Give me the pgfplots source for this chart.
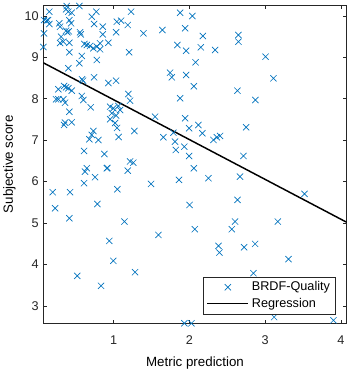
\documentclass[border=0pt]{standalone}
\usepackage{fontspec}
\setmainfont{Liberation Sans}
\usepackage{pgfplots}
\pgfplotsset{compat=1.18}
\usepackage{pgfplotstable}
\definecolor{mblue}{rgb}{0,0.447,0.741}
\definecolor{axgray}{rgb}{0.15,0.15,0.15}
\pgfplotstableread{
x y
0.149 10.104
0.079 9.903
0.115 9.887
0.132 9.903
0.149 9.807
0.079 9.582
0.070 9.252
0.379 10.241
0.370 10.162
0.400 10.104
0.445 10.080
0.546 10.241
0.710 9.983
0.770 10.104
0.281 9.824
0.291 9.742
0.414 9.896
0.436 9.824
0.740 9.807
0.855 9.742
0.370 9.645
0.387 9.607
0.406 9.631
0.555 9.607
0.564 9.558
0.855 9.558
0.304 9.500
0.334 9.380
0.291 9.348
0.414 9.356
0.612 9.324
0.644 9.300
0.687 9.276
0.731 9.220
0.776 9.259
0.819 9.341
0.819 9.196
0.929 9.356
0.414 9.124
0.578 9.035
0.546 8.858
0.776 8.938
0.400 8.738
0.581 8.472
0.595 8.438
0.740 8.520
0.929 8.383
1.031 8.438
0.268 8.231
0.344 8.310
0.370 8.279
0.400 8.255
0.445 8.197
0.238 7.989
0.268 7.989
0.334 7.989
0.357 7.907
0.578 8.069
0.599 7.972
0.696 7.796
0.414 7.690
0.357 7.425
0.344 7.369
0.445 7.434
0.952 7.811
0.995 7.772
1.061 7.828
1.084 7.731
0.974 7.652
1.031 7.598
0.952 7.507
1.018 7.417
1.044 7.297
1.064 7.079
0.731 7.224
0.710 7.128
0.678 7.024
0.797 7.007
0.608 6.742
0.876 6.669
1.229 10.104
1.097 9.887
1.185 9.783
1.040 9.862
1.031 9.607
1.392 9.582
1.643 9.662
1.877 10.080
2.038 10.000
1.943 9.703
1.203 9.124
1.841 9.300
1.956 9.162
2.081 8.882
1.744 8.631
1.767 8.520
1.956 8.576
2.058 8.303
1.193 8.117
1.216 7.956
1.877 8.014
1.546 7.569
1.273 7.224
1.656 7.072
1.788 7.183
1.810 6.966
1.820 6.766
1.943 7.531
1.996 7.289
1.933 6.845
1.996 6.621
1.216 6.488
1.259 6.459
1.185 6.266
2.177 9.517
2.150 9.245
2.339 9.179
2.647 9.541
2.647 9.380
3.006 9.018
3.110 8.496
2.634 8.197
2.872 7.972
2.118 7.369
2.171 7.169
2.317 7.007
2.362 7.072
2.405 7.104
2.749 7.314
2.713 6.621
0.644 6.324
0.621 6.242
0.908 6.324
0.916 6.331
0.194 5.745
0.423 5.745
0.608 5.962
0.753 6.107
1.048 5.817
0.225 5.358
0.414 5.117
0.784 5.462
0.942 4.569
0.995 4.087
0.519 3.724
0.833 3.483
1.493 5.945
1.863 6.042
2.058 6.324
2.002 5.438
1.141 5.035
1.590 4.714
2.071 4.852
1.282 3.814
1.933 2.578
2.026 2.578
2.251 6.083
2.669 6.121
2.634 5.559
2.603 5.035
2.560 4.852
2.383 4.449
2.396 4.287
2.722 4.417
2.868 4.497
2.845 3.790
3.519 5.704
3.168 5.035
3.308 4.128
3.119 2.728
3.902 2.650
}\datatable
\begin{document}
\begin{tikzpicture}
\begin{axis}[
  name=ax,
  scale only axis,
  width=227.5pt, height=238.5pt,
  xmin=0.07, xmax=4.077,
  ymin=2.578, ymax=10.258,
  xtick={1,2,3,4},
  ytick={3,4,5,6,7,8,9,10},
  tick align=inside,
  major tick length=2.5pt,
  axis line style={axgray, line width=0.5pt},
  every tick/.style={axgray, line width=0.5pt},
  tick label style={font=\fontsize{9.5}{11}\selectfont, text=axgray},
  xticklabel style={yshift=-5.5pt},
  /pgf/number format/assume math mode=true,
  xlabel={Metric prediction},
  ylabel={Subjective score},
  label style={font=\fontsize{11}{13}\selectfont, text=axgray},
  every axis x label/.style={at={(axis description cs:0.5,0)}, yshift=-29.5pt, anchor=center},
  every axis y label/.style={at={(axis description cs:0,0.5)}, xshift=-25.5pt, rotate=90, anchor=center},
  legend style={at={(1,0)}, anchor=south east, xshift=-8.25pt, yshift=6.75pt,
    font=\fontsize{9.5}{11}\selectfont, draw=axgray, line width=0.5pt,
    inner xsep=2pt, inner ysep=1.5pt, row sep=0pt},
  legend cell align=left,
  legend image code/.code={\draw[mark repeat=2,mark phase=2,#1] plot coordinates {(0pt,0pt) (15.5pt,0pt) (31pt,0pt)};},
]
\addplot[only marks, mark=x, mark size=3.3pt, mblue, line width=0.5pt] table[x=x,y=y] {\datatable};
\addlegendentry{BRDF-Quality}
\addplot[black, line width=1.1pt] coordinates {(0.07,8.870) (4.077,5.019)};
\addlegendentry{Regression}
\end{axis}
\pgfresetboundingbox
\path ([shift={(-32.5pt,-35pt)}]ax.south west) rectangle ([shift={(3.2pt,4pt)}]ax.north east);
\end{tikzpicture}
\end{document}
